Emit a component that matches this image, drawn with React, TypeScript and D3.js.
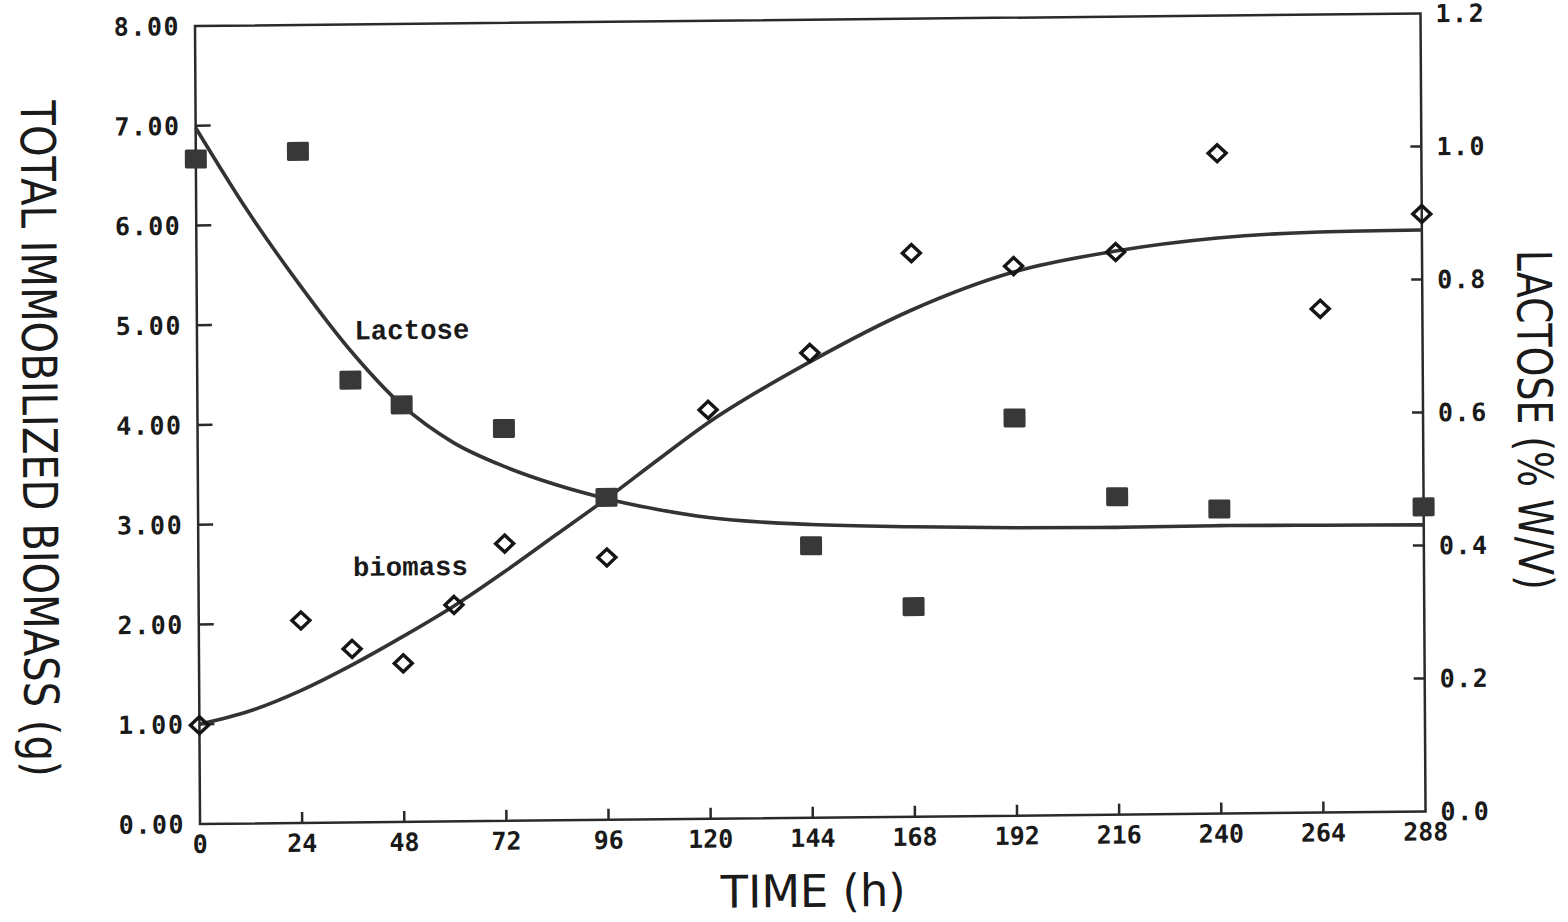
import React from "react";
import * as d3 from "d3";

// Sampling times (h) and measured values
const lactoseTimes = [0, 24, 36, 48, 72, 96, 144, 168, 192, 216, 240, 288];
const lactoseValues = [1.0, 1.01, 0.665, 0.627, 0.59, 0.485, 0.409, 0.316, 0.598, 0.478, 0.458, 0.458];

const biomassTimes = [0, 24, 36, 48, 60, 72, 96, 120, 144, 168, 192, 216, 240, 264, 288];
const biomassValues = [0.99, 2.03, 1.74, 1.59, 2.17, 2.78, 2.63, 4.1, 4.66, 5.65, 5.51, 5.64, 6.62, 5.05, 5.99];

// Fitted curves
const lactoseFitTimes = [0, 12, 24, 36, 48, 60, 72, 84, 96, 108, 120, 144, 168, 192, 216, 240, 264, 288];
const lactoseFitValues = [1.047, 0.922, 0.811, 0.71, 0.627, 0.57, 0.533, 0.505, 0.483, 0.466, 0.453, 0.441, 0.436, 0.433, 0.432, 0.433, 0.432, 0.431];

const biomassFitTimes = [0, 12, 24, 36, 48, 60, 72, 84, 96, 108, 120, 144, 168, 192, 216, 240, 264, 288];
const biomassFitValues = [1.0, 1.13, 1.33, 1.58, 1.86, 2.16, 2.5, 2.86, 3.22, 3.6, 3.97, 4.57, 5.08, 5.45, 5.65, 5.77, 5.82, 5.83];

// Axis ticks
const timeTicks = [0, 24, 48, 72, 96, 120, 144, 168, 192, 216, 240, 264, 288];
const biomassTicks = [0, 1, 2, 3, 4, 5, 6, 7, 8];
const lactoseTicks = [0, 0.2, 0.4, 0.6, 0.8, 1.0, 1.2];

const W = 1568;
const H = 922;
const plot = { left: 195, top: 26, right: 1420.5, bottom: 824 };

const ink = "#2a2a2a";
const tickFont = "'DejaVu Sans Mono', monospace";
const titleFont = "'Liberation Sans Narrow', 'DejaVu Sans', sans-serif";
const noteFont = "'Liberation Mono', 'DejaVu Sans Mono', monospace";

export default function App() {
  const x = d3.scaleLinear().domain([0, 288]).range([plot.left, plot.right]);
  const yL = d3.scaleLinear().domain([0, 8]).range([plot.bottom, plot.top]);
  const yR = d3.scaleLinear().domain([0, 1.2]).range([plot.bottom, plot.top]);

  const lactoseLine = d3
    .line<number>()
    .x((_, i) => x(lactoseFitTimes[i]))
    .y((d) => yR(d))
    .curve(d3.curveMonotoneX);
  const biomassLine = d3
    .line<number>()
    .x((_, i) => x(biomassFitTimes[i]))
    .y((d) => yL(d))
    .curve(d3.curveMonotoneX);

  const fmtL = d3.format(".2f");
  const fmtR = d3.format(".1f");
  const midX = (plot.left + plot.right) / 2;

  return (
    <svg
      width={W}
      height={H}
      style={{ position: "absolute", left: 0, top: 0, background: "#fff" }}
    >
      <rect width={W} height={H} fill="#fff" />
      {/* the whole sheet sits slightly skewed */}
      <g transform="matrix(1,-0.0102,0.0063,1,-0.16,1.99)">
        {/* frame */}
        <rect
          x={plot.left}
          y={plot.top}
          width={plot.right - plot.left}
          height={plot.bottom - plot.top}
          fill="none"
          stroke={ink}
          strokeWidth={2.5}
        />

        {/* left ticks + labels */}
        {biomassTicks.map((v) => (
          <g key={"l" + v}>
            {v > 0 && v < 8 && (
              <line
                x1={plot.left}
                x2={plot.left + 15}
                y1={yL(v)}
                y2={yL(v)}
                stroke={ink}
                strokeWidth={2.5}
              />
            )}
            <text
              x={plot.left - 15}
              y={yL(v) + 9}
              textAnchor="end"
              fontFamily={tickFont}
              fontWeight="bold"
              fontSize={25}
              letterSpacing={1.5}
              fill="#1a1a1a"
            >
              {fmtL(v)}
            </text>
          </g>
        ))}

        {/* right ticks + labels */}
        {lactoseTicks.map((v) => (
          <g key={"r" + v}>
            {v > 0 && v < 1.2 && (
              <line
                x1={plot.right - 11}
                x2={plot.right}
                y1={yR(v)}
                y2={yR(v)}
                stroke={ink}
                strokeWidth={2.5}
              />
            )}
            <text
              x={plot.right + 15}
              y={yR(v) + 9}
              textAnchor="start"
              fontFamily={tickFont}
              fontWeight="bold"
              fontSize={25}
              letterSpacing={1.5}
              fill="#1a1a1a"
            >
              {fmtR(v)}
            </text>
          </g>
        ))}

        {/* bottom ticks + labels */}
        {timeTicks.map((t) => (
          <g key={"b" + t}>
            {t > 0 && t < 288 && (
              <line
                x1={x(t)}
                x2={x(t)}
                y1={plot.bottom}
                y2={plot.bottom - 11}
                stroke={ink}
                strokeWidth={2.5}
              />
            )}
            <text
              x={x(t)}
              y={plot.bottom + 29}
              textAnchor="middle"
              fontFamily={tickFont}
              fontWeight="bold"
              fontSize={25}
              fill="#1a1a1a"
            >
              {t}
            </text>
          </g>
        ))}

        {/* fitted curves */}
        <path d={lactoseLine(lactoseFitValues) || ""} fill="none" stroke="#333" strokeWidth={3.6} />
        <path d={biomassLine(biomassFitValues) || ""} fill="none" stroke="#333" strokeWidth={3.6} />

        {/* lactose samples */}
        {lactoseValues.map((v, i) => (
          <rect
            key={"s" + i}
            x={x(lactoseTimes[i]) - 11}
            y={yR(v) - 9.5}
            width={22}
            height={19}
            rx={1.5}
            fill="#383838"
          />
        ))}

        {/* biomass samples */}
        {biomassValues.map((v, i) => {
          const cx = x(biomassTimes[i]);
          const cy = yL(v);
          return (
            <path
              key={"d" + i}
              d={`M${cx},${cy - 8.5} L${cx + 9},${cy} L${cx},${cy + 8.5} L${cx - 9},${cy} Z`}
              fill="none"
              stroke="#151515"
              strokeWidth={3.4}
              strokeLinejoin="miter"
            />
          );
        })}

        {/* curve labels */}
        <text
          x={x(37)}
          y={yL(4.84)}
          fontFamily={noteFont}
          fontWeight="bold"
          fontSize={28}
          textLength={115}
          lengthAdjust="spacingAndGlyphs"
          fill="#1a1a1a"
        >
          Lactose
        </text>
        <text
          x={x(36.3)}
          y={yL(2.47)}
          fontFamily={noteFont}
          fontWeight="bold"
          fontSize={27}
          textLength={115}
          lengthAdjust="spacingAndGlyphs"
          fill="#1a1a1a"
        >
          biomass
        </text>

        {/* axis titles */}
        <text
          x={midX}
          y={plot.bottom + 89}
          textAnchor="middle"
          fontFamily={titleFont}
          fontSize={45}
          textLength={185}
          lengthAdjust="spacingAndGlyphs"
          fill="#1a1a1a"
        >
          TIME (h)
        </text>
        <text
          transform={`translate(20.2, 437) rotate(90)`}
          textAnchor="middle"
          fontFamily={titleFont}
          fontSize={48}
          textLength={676}
          lengthAdjust="spacingAndGlyphs"
          fill="#1a1a1a"
        >
          TOTAL IMMOBILIZED BIOMASS (g)
        </text>
        <text
          transform={`translate(1515.4, 433.5) rotate(90)`}
          textAnchor="middle"
          fontFamily={titleFont}
          fontSize={48}
          textLength={340}
          lengthAdjust="spacingAndGlyphs"
          fill="#1a1a1a"
        >
          LACTOSE (% W/V)
        </text>
      </g>
    </svg>
  );
}
